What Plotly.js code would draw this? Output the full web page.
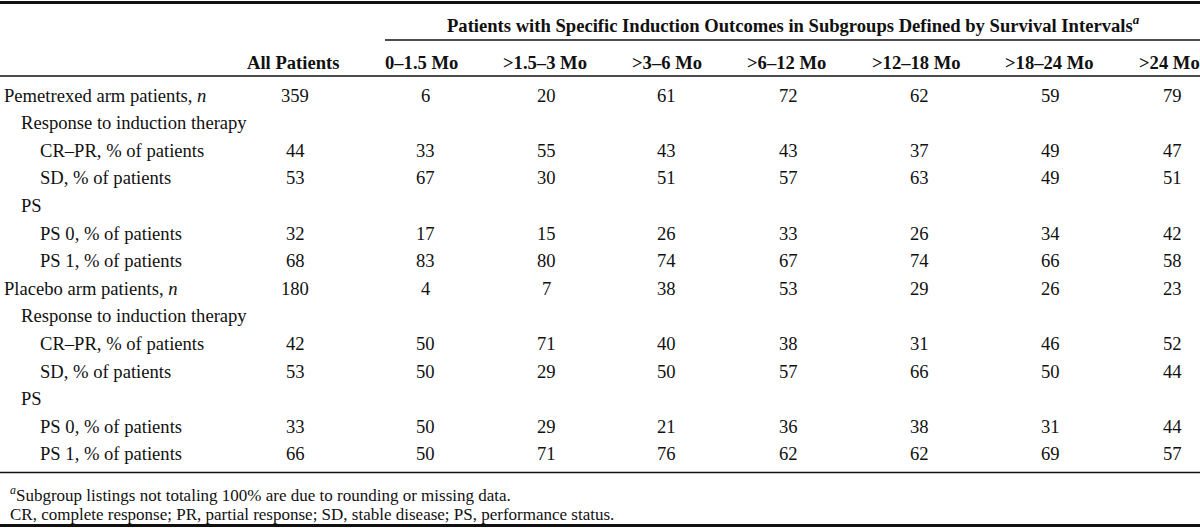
<!DOCTYPE html>
<html>
<head>
<meta charset="utf-8">
<script src="https://cdn.plot.ly/plotly-3.0.1.min.js"></script>
<style>html,body{margin:0;padding:0;background:#fff;}#chart{width:1200px;height:528px;}</style>
</head>
<body>
<div id="chart"></div>
<script>
// ---------- data ----------
const spannerTitle = "Patients with Specific Induction Outcomes in Subgroups Defined by Survival Intervals<sup><i>a</i></sup>";
const columnHeaders = ["All Patients", "0–1.5 Mo", ">1.5–3 Mo", ">3–6 Mo", ">6–12 Mo", ">12–18 Mo", ">18–24 Mo", ">24 Mo"];
const rowLabels = [
  "Pemetrexed arm patients, <i>n</i>",
  "Response to induction therapy",
  "CR–PR, % of patients",
  "SD, % of patients",
  "PS",
  "PS 0, % of patients",
  "PS 1, % of patients",
  "Placebo arm patients, <i>n</i>",
  "Response to induction therapy",
  "CR–PR, % of patients",
  "SD, % of patients",
  "PS",
  "PS 0, % of patients",
  "PS 1, % of patients"
];
const rowIndent = [0, 1, 2, 2, 1, 2, 2, 0, 1, 2, 2, 1, 2, 2];
const pemN      = [359, 6, 20, 61, 72, 62, 59, 79];
const pemCRPR   = [44, 33, 55, 43, 43, 37, 49, 47];
const pemSD     = [53, 67, 30, 51, 57, 63, 49, 51];
const pemPS0    = [32, 17, 15, 26, 33, 26, 34, 42];
const pemPS1    = [68, 83, 80, 74, 67, 74, 66, 58];
const plaN      = [180, 4, 7, 38, 53, 29, 26, 23];
const plaCRPR   = [42, 50, 71, 40, 38, 31, 46, 52];
const plaSD     = [53, 50, 29, 50, 57, 66, 50, 44];
const plaPS0    = [33, 50, 29, 21, 36, 38, 31, 44];
const plaPS1    = [66, 50, 71, 76, 62, 62, 69, 57];
const rowValues = [pemN, null, pemCRPR, pemSD, null, pemPS0, pemPS1,
                   plaN, null, plaCRPR, plaSD, null, plaPS0, plaPS1];
const footnotes = [
  "<sup><i>a</i></sup>Subgroup listings not totaling 100% are due to rounding or missing data.",
  "CR, complete response; PR, partial response; SD, stable disease; PS, performance status."
];

// ---------- layout constants ----------
const W = 1200, H = 528;
const FONT = "Liberation Serif, Times New Roman, serif";
const FS = 18.6;
const headerX = [293, 421, 545, 667, 786, 916, 1049, 1169];
const valueX  = [295, 425, 546, 666, 788, 919, 1050, 1172];
const indentX = [2, 19, 38];
const rowTop = 95, rowStep = 27.6;
const rowY = i => rowTop + i * rowStep;

const annotations = [];
function ann(x, y, text, opts) {
  annotations.push(Object.assign({
    x: x, y: y, xref: "x", yref: "y", text: text, showarrow: false,
    xanchor: "center", yanchor: "middle",
    font: {family: FONT, size: FS, color: "#111"}
  }, opts || {}));
}

// spanner
ann(793, 24, "<b>" + spannerTitle + "</b>");
// column headers
columnHeaders.forEach((h, j) => ann(headerX[j], 62, "<b>" + h + "</b>"));
// body
rowLabels.forEach((lab, i) => {
  ann(indentX[rowIndent[i]], rowY(i), lab, {xanchor: "left"});
  const vals = rowValues[i];
  if (vals) vals.forEach((v, j) => ann(valueX[j], rowY(i), String(v)));
});
// footnotes
ann(8, 494, footnotes[0], {xanchor: "left", font: {family: FONT, size: 17, color: "#111"}});
ann(8, 514, footnotes[1], {xanchor: "left", font: {family: FONT, size: 17, color: "#111"}});

const line = (x0, x1, y, w) => ({type: "line", xref: "x", yref: "y", x0: x0, x1: x1, y0: y, y1: y,
  line: {color: "#111", width: w}});
const shapes = [
  line(0, W, 2.5, 3),
  line(385, W, 40, 1.5),
  line(0, W, 76, 1.5),
  line(0, W, 472.5, 1.5),
  line(0, W, 525.5, 3)
];

const layout = {
  width: W, height: H,
  margin: {l: 0, r: 0, t: 0, b: 0},
  paper_bgcolor: "#fff", plot_bgcolor: "#fff",
  xaxis: {range: [0, W], visible: false, fixedrange: true},
  yaxis: {range: [H, 0], visible: false, fixedrange: true},
  showlegend: false,
  annotations: annotations,
  shapes: shapes
};
Plotly.newPlot("chart", [], layout, {staticPlot: true, displayModeBar: false});
</script>
</body>
</html>
